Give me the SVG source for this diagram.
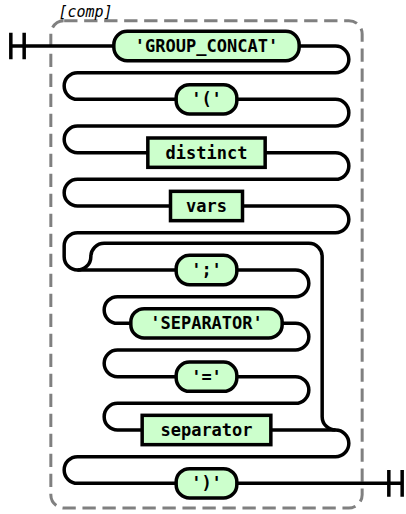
<svg xmlns="http://www.w3.org/2000/svg" width="406" height="514" viewBox="0 0 406 514">
<style>
.track{fill:none;stroke:#000;stroke-width:3.5}
.node rect{fill:#ccffcc;stroke:#000;stroke-width:3.5}
.node text{font-family:"DejaVu Sans Mono","Liberation Mono",monospace;font-weight:bold;font-size:17px;text-anchor:middle;fill:#000}
.group-box{fill:none;stroke:#808080;stroke-width:3;stroke-dasharray:13.33 6.67}
.comment{font-family:"DejaVu Sans Mono","Liberation Mono",monospace;font-style:italic;font-size:15px;text-anchor:middle;fill:#000}
</style>
<g id="group">
<rect class="group-box" x="50.83" y="20.67" width="311.33" height="487.33" rx="13.33" ry="13.33"/>
<text class="comment" x="85.5" y="17">[comp]</text>
</g>
<g id="connectors">
<path class="track" d="M10.83 32.67V59.33M24.17 32.67V59.33"/>
<path class="track" d="M388.83 470V496.67M402.17 470V496.67"/>
<path class="track" d="M10.83 46H335.5A13.33 13.33 0 0 1 348.83 59.33A13.33 13.33 0 0 1 335.5 72.67H77.5A13.33 13.33 0 0 0 64.17 86A13.33 13.33 0 0 0 77.5 99.33H335.5A13.33 13.33 0 0 1 348.83 112.67A13.33 13.33 0 0 1 335.5 126H77.5A13.33 13.33 0 0 0 64.17 139.33A13.33 13.33 0 0 0 77.5 152.67H335.5A13.33 13.33 0 0 1 348.83 166A13.33 13.33 0 0 1 335.5 179.33H77.5A13.33 13.33 0 0 0 64.17 192.67A13.33 13.33 0 0 0 77.5 206H335.5A13.33 13.33 0 0 1 348.83 219.33A13.33 13.33 0 0 1 335.5 232.67H77.5A13.33 13.33 0 0 0 64.17 246V256.67A13.33 13.33 0 0 0 77.5 270H295.5A13.33 13.33 0 0 1 308.83 283.33A13.33 13.33 0 0 1 295.5 296.67H117.5A13.33 13.33 0 0 0 104.17 310A13.33 13.33 0 0 0 117.5 323.33H295.5A13.33 13.33 0 0 1 308.83 336.67A13.33 13.33 0 0 1 295.5 350H117.5A13.33 13.33 0 0 0 104.17 363.33A13.33 13.33 0 0 0 117.5 376.67H295.5A13.33 13.33 0 0 1 308.83 390A13.33 13.33 0 0 1 295.5 403.33H117.5A13.33 13.33 0 0 0 104.17 416.67A13.33 13.33 0 0 0 117.5 430H335.5A13.33 13.33 0 0 1 348.83 443.33A13.33 13.33 0 0 1 335.5 456.67H77.5A13.33 13.33 0 0 0 64.17 470A13.33 13.33 0 0 0 77.5 483.33H402.17"/>
<path class="track" d="M77.5 270A13.33 13.33 0 0 0 90.83 256.67A13.33 13.33 0 0 1 104.17 243.33H308.83A13.33 13.33 0 0 1 322.17 256.67V416.67A13.33 13.33 0 0 0 335.5 430"/>
</g>
<g id="n-group-concat" class="node"><rect x="113.83" y="31.33" width="185.33" height="29.33" rx="13.33" ry="13.33"/><text x="206.5" y="52">'GROUP_CONCAT'</text></g>
<g id="n-lparen" class="node"><rect x="176.17" y="84.67" width="60.67" height="29.33" rx="13.33" ry="13.33"/><text x="206.5" y="105.33">'('</text></g>
<g id="n-distinct" class="node"><rect x="147.83" y="138" width="117.33" height="29.33"/><text x="206.5" y="158.67">distinct</text></g>
<g id="n-vars" class="node"><rect x="170.5" y="191.33" width="72" height="29.33"/><text x="206.5" y="212">vars</text></g>
<g id="n-semicolon" class="node"><rect x="176.17" y="255.33" width="60.67" height="29.33" rx="13.33" ry="13.33"/><text x="206.5" y="276">';'</text></g>
<g id="n-separator-kw" class="node"><rect x="130.83" y="308.67" width="151.33" height="29.33" rx="13.33" ry="13.33"/><text x="206.5" y="329.33">'SEPARATOR'</text></g>
<g id="n-equals" class="node"><rect x="176.17" y="362" width="60.67" height="29.33" rx="13.33" ry="13.33"/><text x="206.5" y="382.67">'='</text></g>
<g id="n-separator" class="node"><rect x="142.17" y="415.33" width="128.67" height="29.33"/><text x="206.5" y="436">separator</text></g>
<g id="n-rparen" class="node"><rect x="176.17" y="468.67" width="60.67" height="29.33" rx="13.33" ry="13.33"/><text x="206.5" y="489.33">')'</text></g>
</svg>
